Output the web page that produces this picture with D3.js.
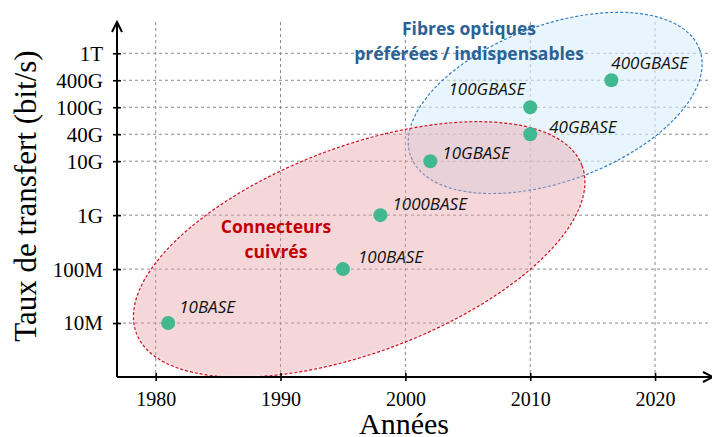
<!DOCTYPE html>
<html>
<head>
<meta charset="utf-8">
<script src="https://cdn.jsdelivr.net/npm/d3@7"></script>
<style>
  body { margin: 0; background: #fff; }
  .axis text { font-family: "Liberation Serif", "Times New Roman", serif; fill: #000; }
  .std { font-family: "Open Sans", sans-serif; font-style: italic; font-size: 17px; fill: #111; }
  .note { font-family: "Open Sans", sans-serif; font-weight: bold; font-size: 17.5px; }
</style>
</head>
<body>
<svg width="712" height="437"></svg>
<script>
// Ethernet standards: year vs. transfer rate
const standards = ["10BASE", "100BASE", "1000BASE", "10GBASE", "40GBASE", "100GBASE", "400GBASE"];
const years = [1981, 1995, 1998, 2002, 2010, 2010, 2016.5];
const rates = [1e7, 1e8, 1e9, 1e10, 4e10, 1e11, 4e11];

const yearTicks = [1980, 1990, 2000, 2010, 2020];
const rateTicks = [1e7, 1e8, 1e9, 1e10, 4e10, 1e11, 4e11, 1e12];
const rateTickLabels = ["10M", "100M", "1G", "10G", "40G", "100G", "400G", "1T"];
// the axis is squeezed above 10G: each of these ticks sits half a decade apart
const rateTickRanks = [0, 1, 2, 3, 3.5, 4, 4.5, 5];

// label placement around each point
const labelDx = [11, 15, 12, 12, 19, -5, 0];
const labelDy = [-10, -6, -5, -2, -1, -12, -11];
const labelAnchor = ["start", "start", "start", "start", "start", "end", "start"];

let margin = { top: 22, right: 2, bottom: 60, left: 117 },
  svg = d3.select("svg"),
  width = +svg.attr("width") - margin.left - margin.right,
  height = +svg.attr("height") - margin.top - margin.bottom;

let g = svg.append("g")
  .attr("transform", "translate(" + margin.left + "," + margin.top + ")");

let x = d3.scaleLinear().domain([1976.9, 2024.4]).range([0, width]);
let rank = d3.scaleLinear().domain([-1, 5.58]).range([height, 0]);
let logToRank = d3.scaleLinear().domain(rateTicks.map(Math.log10)).range(rateTickRanks);
let y = v => rank(logToRank(Math.log10(v)));

// grid
g.append("g").selectAll("line")
  .data(rateTicks).enter().append("line")
  .attr("x1", 0).attr("x2", width)
  .attr("y1", d => y(d)).attr("y2", d => y(d))
  .style("stroke", "#8a8a8a").style("stroke-dasharray", "3,3");

g.append("g").selectAll("line")
  .data(yearTicks).enter().append("line")
  .attr("x1", d => x(d)).attr("x2", d => x(d))
  .attr("y1", 0).attr("y2", height)
  .style("stroke", "#8a8a8a").style("stroke-dasharray", "3,3");

// soft edge for the zones
let defs = svg.append("defs");
defs.append("filter").attr("id", "soft")
  .attr("x", "-10%").attr("y", "-10%").attr("width", "120%").attr("height", "120%")
  .append("feGaussianBlur").attr("stdDeviation", 1.6);

let zones = [
  { cx: x(2012.0), cy: rank(4.08), rx: 154, ry: 78, angle: -20.3, fill: "#dbeefa", op: 0.6, stroke: "#2f80c8" },
  { cx: x(1996.3), cy: rank(1.365), rx: 238, ry: 103, angle: -20.6, fill: "#e8a0a6", op: 0.42, stroke: "#d01020" }
];

let zone = g.selectAll(".zone").data(zones).enter().append("g")
  .attr("class", "zone")
  .attr("transform", d => "translate(" + d.cx + "," + d.cy + ") rotate(" + d.angle + ")");

zone.append("ellipse")
  .attr("rx", d => d.rx).attr("ry", d => d.ry)
  .style("fill", d => d.fill).style("fill-opacity", d => d.op)
  .attr("filter", "url(#soft)");

zone.append("ellipse")
  .attr("rx", d => d.rx).attr("ry", d => d.ry)
  .style("fill", "none").style("stroke", d => d.stroke)
  .style("stroke-width", 1.2).style("stroke-dasharray", "3,2");

// axes
let yAxis = g.append("g").attr("class", "axis")
  .call(d3.axisLeft(rank).tickValues(rateTickRanks).tickFormat((d, i) => rateTickLabels[i]).tickSize(4).tickPadding(10));
yAxis.select(".domain").remove();
yAxis.selectAll(".tick line").attr("x1", -4).attr("x2", 4).style("stroke-width", 1.6);
yAxis.selectAll(".tick text").style("font-size", "21px").attr("dy", "0.33em");

let xAxis = g.append("g").attr("class", "axis")
  .attr("transform", "translate(0," + height + ")")
  .call(d3.axisBottom(x).tickValues(yearTicks).tickFormat(d3.format("d")).tickSize(4).tickPadding(11));
xAxis.select(".domain").remove();
xAxis.selectAll(".tick line").attr("y1", -4).attr("y2", 4).style("stroke-width", 1.6);
xAxis.selectAll(".tick text").style("font-size", "20px");

g.append("line").attr("x1", 0).attr("x2", 0).attr("y1", height).attr("y2", 0)
  .style("stroke", "#000").style("stroke-width", 2);
g.append("path").attr("d", "M-5,10L0,0L5,10")
  .style("fill", "none").style("stroke", "#000").style("stroke-width", 2);
g.append("line").attr("x1", 0).attr("x2", width + 4).attr("y1", height).attr("y2", height)
  .style("stroke", "#000").style("stroke-width", 2);
g.append("path").attr("d", "M" + (width - 7) + "," + (height - 5) + "L" + (width + 3) + "," + height + "L" + (width - 7) + "," + (height + 5))
  .style("fill", "none").style("stroke", "#000").style("stroke-width", 2);

// titles
svg.append("text")
  .attr("transform", "translate(36,196) rotate(-90)")
  .attr("text-anchor", "middle")
  .style("font-family", "Liberation Serif, serif").style("font-size", "31px")
  .text("Taux de transfert (bit/s)");

svg.append("text")
  .attr("x", 404).attr("y", 434)
  .attr("text-anchor", "middle")
  .style("font-family", "Liberation Serif, serif").style("font-size", "30px")
  .text("Années");

// zone notes
let notes = [
  { lines: ["Connecteurs", "cuivrés"], x: 276, y: 233, color: "#c00000" },
  { lines: ["Fibres optiques", "préférées / indispensables"], x: 469, y: 35, color: "#2a6296" }
];
notes.forEach(n => {
  let t = svg.append("text").attr("class", "note")
    .attr("text-anchor", "middle").style("fill", n.color);
  n.lines.forEach((l, i) => {
    t.append("tspan").attr("x", n.x).attr("y", n.y + i * 24.5).text(l);
  });
});

// points
let pts = standards.map((s, i) => ({ name: s, year: years[i], rate: rates[i], i: i }));

g.selectAll(".pt").data(pts).enter().append("circle")
  .attr("class", "pt")
  .attr("cx", d => x(d.year)).attr("cy", d => y(d.rate))
  .attr("r", 7)
  .style("fill", "#41b890");

g.selectAll(".std").data(pts).enter().append("text")
  .attr("class", "std")
  .attr("x", d => x(d.year) + labelDx[d.i])
  .attr("y", d => y(d.rate) + labelDy[d.i])
  .attr("text-anchor", d => labelAnchor[d.i])
  .text(d => d.name);
</script>
</body>
</html>
